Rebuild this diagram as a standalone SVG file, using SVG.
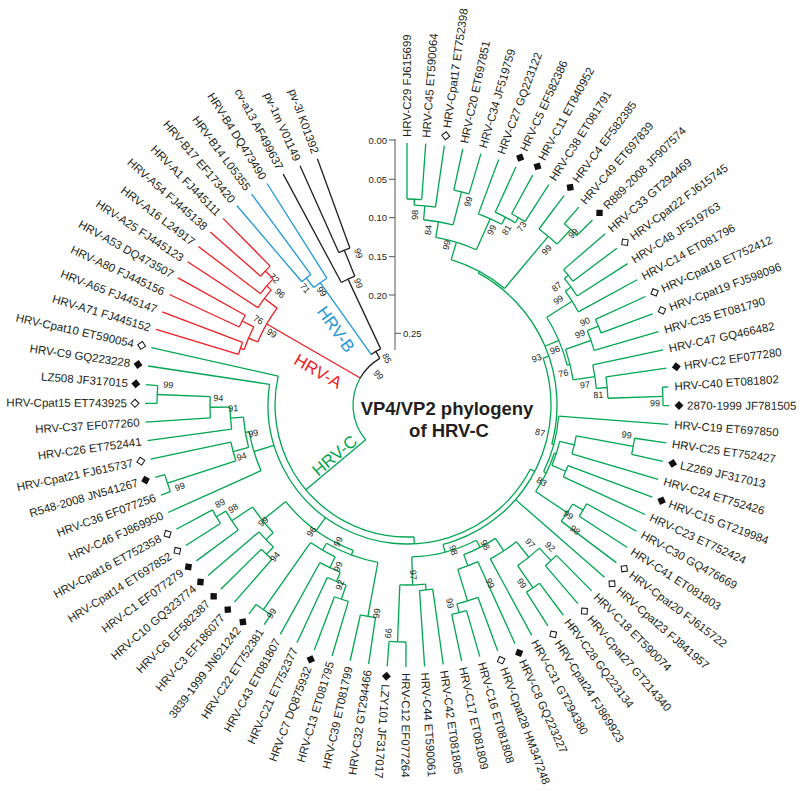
<svg xmlns="http://www.w3.org/2000/svg" xmlns:xlink="http://www.w3.org/1999/xlink" width="800" height="791" viewBox="0 0 800 791">
<style>
.e path,.e circle{fill:none;stroke-width:1.3;stroke-linecap:butt}
.g path,.g circle{stroke:#00a651}
.r path,.r circle{stroke:#ed1c24}
.bl path,.bl circle{stroke:#1e98d7}
.k path,.k circle{stroke:#231f20}
.l{font-family:"Liberation Sans",Arial,sans-serif;font-size:11.5px;fill:#231f20;dominant-baseline:central}
.f{text-anchor:end}
.b{font-family:"Liberation Sans",Arial,sans-serif;font-size:9px;fill:#231f20;text-anchor:middle;dominant-baseline:central}
.s{font-family:"Liberation Sans",Arial,sans-serif;font-size:9.5px;fill:#231f20;dominant-baseline:central}
.cl{font-family:"Liberation Sans",Arial,sans-serif;font-size:17px;text-anchor:middle}
.ti{font-family:"Liberation Sans",Arial,sans-serif;font-size:18.5px;font-weight:bold;fill:#231f20;text-anchor:middle}
</style>
<defs>
<path id="df" d="M-4.5 0L0-4.5L4.5 0L0 4.5Z" fill="#111"/>
<path id="do" d="M-4 0L0-4L4 0L0 4Z" fill="#fff" stroke="#111" stroke-width="1"/>
</defs>
<rect width="800" height="791" fill="#fff"/>
<g id="connectors" class="e" transform="translate(407,405)">
<g class="g">
<path d="M206 0H262" transform="rotate(270)"/>
<path d="M206 0H262" transform="rotate(274.1)"/>
<path d="M200 0H262" transform="rotate(278.19)"/>
<path d="M220 0H262" transform="rotate(282.29)"/>
<path d="M220 0H262" transform="rotate(286.39)"/>
<path d="M204 0H262" transform="rotate(290.48)"/>
<path d="M212 0H262" transform="rotate(294.58)"/>
<path d="M218 0H262" transform="rotate(298.67)"/>
<path d="M218 0H262" transform="rotate(302.77)"/>
<path d="M220 0H262" transform="rotate(306.87)"/>
<path d="M240 0H262" transform="rotate(310.96)"/>
<path d="M240 0H262" transform="rotate(315.06)"/>
<path d="M207 0H262" transform="rotate(319.16)"/>
<path d="M207 0H262" transform="rotate(323.25)"/>
<path d="M202 0H262" transform="rotate(327.35)"/>
<path d="M195 0H262" transform="rotate(331.45)"/>
<path d="M207 0H262" transform="rotate(335.54)"/>
<path d="M207 0H262" transform="rotate(339.64)"/>
<path d="M195 0H262" transform="rotate(343.74)"/>
<path d="M190 0H262" transform="rotate(347.83)"/>
<path d="M201 0H262" transform="rotate(351.93)"/>
<path d="M256 0H262" transform="rotate(356.02)"/>
<path d="M256 0H262" transform="rotate(360.12)"/>
<path d="M152 0H262" transform="rotate(364.22)"/>
<path d="M230 0H262" transform="rotate(368.31)"/>
<path d="M230 0H262" transform="rotate(372.41)"/>
<path d="M172 0H262" transform="rotate(376.51)"/>
<path d="M172 0H262" transform="rotate(380.6)"/>
<path d="M172 0H262" transform="rotate(384.7)"/>
<path d="M205 0H262" transform="rotate(388.8)"/>
<path d="M205 0H262" transform="rotate(392.89)"/>
<path d="M193 0H262" transform="rotate(396.99)"/>
<path d="M144 0H262" transform="rotate(401.08)"/>
<path d="M212 0H262" transform="rotate(405.18)"/>
<path d="M212 0H262" transform="rotate(409.28)"/>
<path d="M222 0H262" transform="rotate(413.37)"/>
<path d="M222 0H262" transform="rotate(417.47)"/>
<path d="M175 0H262" transform="rotate(421.57)"/>
<path d="M172 0H262" transform="rotate(425.66)"/>
<path d="M205 0H262" transform="rotate(429.76)"/>
<path d="M214 0H262" transform="rotate(433.86)"/>
<path d="M214 0H262" transform="rotate(437.95)"/>
<path d="M186 0H262" transform="rotate(442.05)"/>
<path d="M186 0H262" transform="rotate(446.15)"/>
<path d="M237 0H262" transform="rotate(450.24)"/>
<path d="M237 0H262" transform="rotate(454.34)"/>
<path d="M215 0H262" transform="rotate(458.43)"/>
<path d="M215 0H262" transform="rotate(462.53)"/>
<path d="M205 0H262" transform="rotate(466.63)"/>
<path d="M205 0H262" transform="rotate(470.72)"/>
<path d="M190 0H262" transform="rotate(474.82)"/>
<path d="M180 0H262" transform="rotate(478.92)"/>
<path d="M250 0H262" transform="rotate(483.01)"/>
<path d="M250 0H262" transform="rotate(487.11)"/>
<path d="M205 0H262" transform="rotate(491.21)"/>
<path d="M205 0H262" transform="rotate(495.3)"/>
<path d="M195 0H262" transform="rotate(499.4)"/>
<path d="M210 0H262" transform="rotate(503.49)"/>
<path d="M221 0H262" transform="rotate(507.59)"/>
<path d="M221 0H262" transform="rotate(511.69)"/>
<path d="M160 0H262" transform="rotate(515.78)"/>
<path d="M252 0H262" transform="rotate(519.88)"/>
<path d="M252 0H262" transform="rotate(523.98)"/>
<path d="M180 0H262" transform="rotate(528.07)"/>
<path d="M177 0H262" transform="rotate(532.17)"/>
<path d="M197 0H262" transform="rotate(536.27)"/>
<path d="M250 0H262" transform="rotate(540.36)"/>
<path d="M250 0H262" transform="rotate(544.46)"/>
<path d="M139 0H262" transform="rotate(548.56)"/>
<path d="M132 0H262" transform="rotate(552.65)"/>
<path d="M200 0H206" transform="rotate(272.05)"/><circle r="206" pathLength="360" stroke-dasharray="4.1 999" transform="rotate(270)"/>
<path d="M186 0H200" transform="rotate(275.12)"/><circle r="200" pathLength="360" stroke-dasharray="6.14 999" transform="rotate(272.05)"/>
<path d="M186 0H220" transform="rotate(284.34)"/><circle r="220" pathLength="360" stroke-dasharray="4.1 999" transform="rotate(282.29)"/>
<path d="M170 0H186" transform="rotate(279.73)"/><circle r="186" pathLength="360" stroke-dasharray="9.22 999" transform="rotate(275.12)"/>
<path d="M212 0H218" transform="rotate(300.72)"/><circle r="218" pathLength="360" stroke-dasharray="4.1 999" transform="rotate(298.67)"/>
<path d="M204 0H212" transform="rotate(297.65)"/><circle r="212" pathLength="360" stroke-dasharray="6.14 999" transform="rotate(294.58)"/>
<path d="M170 0H204" transform="rotate(294.07)"/><circle r="204" pathLength="360" stroke-dasharray="7.17 999" transform="rotate(290.48)"/>
<path d="M152 0H170" transform="rotate(286.9)"/><circle r="170" pathLength="360" stroke-dasharray="14.34 999" transform="rotate(279.73)"/>
<path d="M220 0H240" transform="rotate(313.01)"/><circle r="240" pathLength="360" stroke-dasharray="4.1 999" transform="rotate(310.96)"/>
<path d="M152 0H220" transform="rotate(309.94)"/><circle r="220" pathLength="360" stroke-dasharray="6.14 999" transform="rotate(306.87)"/>
<path d="M150 0H152" transform="rotate(298.42)"/><circle r="152" pathLength="360" stroke-dasharray="23.04 999" transform="rotate(286.9)"/>
<path d="M202 0H207" transform="rotate(321.2)"/><circle r="207" pathLength="360" stroke-dasharray="4.09 999" transform="rotate(319.16)"/>
<path d="M195 0H202" transform="rotate(324.28)"/><circle r="202" pathLength="360" stroke-dasharray="6.15 999" transform="rotate(321.2)"/>
<path d="M165 0H195" transform="rotate(327.86)"/><circle r="195" pathLength="360" stroke-dasharray="7.17 999" transform="rotate(324.28)"/>
<path d="M195 0H207" transform="rotate(337.59)"/><circle r="207" pathLength="360" stroke-dasharray="4.1 999" transform="rotate(335.54)"/>
<path d="M168 0H195" transform="rotate(340.66)"/><circle r="195" pathLength="360" stroke-dasharray="6.15 999" transform="rotate(337.59)"/>
<path d="M201 0H256" transform="rotate(358.07)"/><circle r="256" pathLength="360" stroke-dasharray="4.1 999" transform="rotate(356.02)"/>
<path d="M190 0H201" transform="rotate(355)"/><circle r="201" pathLength="360" stroke-dasharray="6.14 999" transform="rotate(351.93)"/>
<path d="M168 0H190" transform="rotate(351.42)"/><circle r="190" pathLength="360" stroke-dasharray="7.17 999" transform="rotate(347.83)"/>
<path d="M165 0H168" transform="rotate(346.04)"/><circle r="168" pathLength="360" stroke-dasharray="10.76 999" transform="rotate(340.66)"/>
<path d="M150 0H165" transform="rotate(336.95)"/><circle r="165" pathLength="360" stroke-dasharray="18.18 999" transform="rotate(327.86)"/>
<path d="M172 0H230" transform="rotate(370.36)"/><circle r="230" pathLength="360" stroke-dasharray="4.1 999" transform="rotate(368.31)"/>
<path d="M157 0H172" transform="rotate(373.43)"/><circle r="172" pathLength="360" stroke-dasharray="6.15 999" transform="rotate(370.36)"/>
<path d="M157 0H172" transform="rotate(382.65)"/><circle r="172" pathLength="360" stroke-dasharray="4.1 999" transform="rotate(380.6)"/>
<path d="M155 0H157" transform="rotate(378.04)"/><circle r="157" pathLength="360" stroke-dasharray="9.22 999" transform="rotate(373.43)"/>
<path d="M193 0H205" transform="rotate(390.85)"/><circle r="205" pathLength="360" stroke-dasharray="4.09 999" transform="rotate(388.8)"/>
<path d="M155 0H193" transform="rotate(393.92)"/><circle r="193" pathLength="360" stroke-dasharray="6.14 999" transform="rotate(390.85)"/>
<path d="M152 0H155" transform="rotate(385.98)"/><circle r="155" pathLength="360" stroke-dasharray="15.88 999" transform="rotate(378.04)"/>
<path d="M150 0H152" transform="rotate(375.1)"/><circle r="152" pathLength="360" stroke-dasharray="21.76 999" transform="rotate(364.22)"/>
<path d="M144 0H150" transform="rotate(341)"/><circle r="150" pathLength="360" stroke-dasharray="76.68 999" transform="rotate(298.42)"/>
<path d="M195 0H212" transform="rotate(407.23)"/><circle r="212" pathLength="360" stroke-dasharray="4.1 999" transform="rotate(405.18)"/>
<path d="M195 0H222" transform="rotate(415.42)"/><circle r="222" pathLength="360" stroke-dasharray="4.1 999" transform="rotate(413.37)"/>
<path d="M175 0H195" transform="rotate(411.33)"/><circle r="195" pathLength="360" stroke-dasharray="8.19 999" transform="rotate(407.23)"/>
<path d="M160 0H175" transform="rotate(416.45)"/><circle r="175" pathLength="360" stroke-dasharray="10.24 999" transform="rotate(411.33)"/>
<path d="M205 0H214" transform="rotate(435.9)"/><circle r="214" pathLength="360" stroke-dasharray="4.09 999" transform="rotate(433.86)"/>
<path d="M172 0H205" transform="rotate(432.83)"/><circle r="205" pathLength="360" stroke-dasharray="6.14 999" transform="rotate(429.76)"/>
<path d="M160 0H172" transform="rotate(429.25)"/><circle r="172" pathLength="360" stroke-dasharray="7.17 999" transform="rotate(425.66)"/>
<path d="M152 0H160" transform="rotate(422.85)"/><circle r="160" pathLength="360" stroke-dasharray="12.8 999" transform="rotate(416.45)"/>
<path d="M180 0H186" transform="rotate(444.1)"/><circle r="186" pathLength="360" stroke-dasharray="4.1 999" transform="rotate(442.05)"/>
<path d="M180 0H237" transform="rotate(452.29)"/><circle r="237" pathLength="360" stroke-dasharray="4.1 999" transform="rotate(450.24)"/>
<path d="M152 0H180" transform="rotate(448.2)"/><circle r="180" pathLength="360" stroke-dasharray="8.19 999" transform="rotate(444.1)"/>
<path d="M144 0H152" transform="rotate(435.5)"/><circle r="152" pathLength="360" stroke-dasharray="25.35 999" transform="rotate(422.85)"/>
<path d="M139 0H144" transform="rotate(387.5)"/><circle r="144" pathLength="360" stroke-dasharray="94.5 999" transform="rotate(341)"/>
<path d="M160 0H215" transform="rotate(460.48)"/><circle r="215" pathLength="360" stroke-dasharray="4.1 999" transform="rotate(458.43)"/>
<path d="M190 0H205" transform="rotate(468.68)"/><circle r="205" pathLength="360" stroke-dasharray="4.09 999" transform="rotate(466.63)"/>
<path d="M180 0H190" transform="rotate(471.75)"/><circle r="190" pathLength="360" stroke-dasharray="6.14 999" transform="rotate(468.68)"/>
<path d="M168 0H180" transform="rotate(475.34)"/><circle r="180" pathLength="360" stroke-dasharray="7.17 999" transform="rotate(471.75)"/>
<path d="M168 0H250" transform="rotate(485.06)"/><circle r="250" pathLength="360" stroke-dasharray="4.1 999" transform="rotate(483.01)"/>
<path d="M160 0H168" transform="rotate(480.2)"/><circle r="168" pathLength="360" stroke-dasharray="9.72 999" transform="rotate(475.34)"/>
<path d="M155 0H160" transform="rotate(470.34)"/><circle r="160" pathLength="360" stroke-dasharray="19.72 999" transform="rotate(460.48)"/>
<path d="M195 0H205" transform="rotate(493.26)"/><circle r="205" pathLength="360" stroke-dasharray="4.09 999" transform="rotate(491.21)"/>
<path d="M185 0H195" transform="rotate(496.33)"/><circle r="195" pathLength="360" stroke-dasharray="6.14 999" transform="rotate(493.26)"/>
<path d="M210 0H221" transform="rotate(509.64)"/><circle r="221" pathLength="360" stroke-dasharray="4.1 999" transform="rotate(507.59)"/>
<path d="M185 0H210" transform="rotate(506.57)"/><circle r="210" pathLength="360" stroke-dasharray="6.15 999" transform="rotate(503.49)"/>
<path d="M155 0H185" transform="rotate(501.45)"/><circle r="185" pathLength="360" stroke-dasharray="10.24 999" transform="rotate(496.33)"/>
<path d="M139 0H155" transform="rotate(485.9)"/><circle r="155" pathLength="360" stroke-dasharray="31.11 999" transform="rotate(470.34)"/>
<path d="M180 0H252" transform="rotate(521.93)"/><circle r="252" pathLength="360" stroke-dasharray="4.1 999" transform="rotate(519.88)"/>
<path d="M164 0H180" transform="rotate(525)"/><circle r="180" pathLength="360" stroke-dasharray="6.14 999" transform="rotate(521.93)"/>
<path d="M197 0H250" transform="rotate(542.41)"/><circle r="250" pathLength="360" stroke-dasharray="4.1 999" transform="rotate(540.36)"/>
<path d="M177 0H197" transform="rotate(539.34)"/><circle r="197" pathLength="360" stroke-dasharray="6.14 999" transform="rotate(536.27)"/>
<path d="M164 0H177" transform="rotate(535.76)"/><circle r="177" pathLength="360" stroke-dasharray="7.17 999" transform="rotate(532.17)"/>
<path d="M160 0H164" transform="rotate(530.38)"/><circle r="164" pathLength="360" stroke-dasharray="10.76 999" transform="rotate(525)"/>
<path d="M139 0H160" transform="rotate(523.08)"/><circle r="160" pathLength="360" stroke-dasharray="14.6 999" transform="rotate(515.78)"/>
<path d="M132 0H139" transform="rotate(447)"/><circle r="139" pathLength="360" stroke-dasharray="161.06 999" transform="rotate(387.5)"/>
<path d="M54 0H132" transform="rotate(500)"/><circle r="132" pathLength="360" stroke-dasharray="105.65 999" transform="rotate(447)"/>
<circle r="54" pathLength="360" stroke-dasharray="70 999" transform="rotate(500)"/>
</g>
<g class="r">
<path d="M176 0H262" transform="rotate(556.75)"/>
<path d="M176 0H262" transform="rotate(560.84)"/>
<path d="M185 0H262" transform="rotate(564.94)"/>
<path d="M185 0H262" transform="rotate(569.04)"/>
<path d="M178 0H262" transform="rotate(573.13)"/>
<path d="M184 0H262" transform="rotate(577.23)"/>
<path d="M195 0H262" transform="rotate(581.33)"/>
<path d="M195 0H262" transform="rotate(585.42)"/>
<path d="M172 0H176" transform="rotate(558.8)"/><circle r="176" pathLength="360" stroke-dasharray="4.09 999" transform="rotate(556.75)"/>
<path d="M172 0H185" transform="rotate(566.99)"/><circle r="185" pathLength="360" stroke-dasharray="4.1 999" transform="rotate(564.94)"/>
<path d="M162 0H172" transform="rotate(562.9)"/><circle r="172" pathLength="360" stroke-dasharray="8.19 999" transform="rotate(558.8)"/>
<path d="M184 0H195" transform="rotate(583.38)"/><circle r="195" pathLength="360" stroke-dasharray="4.09 999" transform="rotate(581.33)"/>
<path d="M178 0H184" transform="rotate(580.3)"/><circle r="184" pathLength="360" stroke-dasharray="6.15 999" transform="rotate(577.23)"/>
<path d="M162 0H178" transform="rotate(576.72)"/><circle r="178" pathLength="360" stroke-dasharray="7.17 999" transform="rotate(573.13)"/>
<path d="M54 0H162" transform="rotate(570)"/><circle r="162" pathLength="360" stroke-dasharray="13.82 999" transform="rotate(562.9)"/>
</g>
<g class="bl">
<path d="M162 0H262" transform="rotate(589.52)"/>
<path d="M162 0H262" transform="rotate(593.62)"/>
<path d="M150 0H262" transform="rotate(597.71)"/>
<path d="M150 0H162" transform="rotate(591.57)"/><circle r="162" pathLength="360" stroke-dasharray="4.1 999" transform="rotate(589.52)"/>
<path d="M62 0H150" transform="rotate(594.64)"/><circle r="150" pathLength="360" stroke-dasharray="6.14 999" transform="rotate(591.57)"/>
</g>
<g class="k">
<path d="M139 0H262" transform="rotate(601.81)"/>
<path d="M167 0H262" transform="rotate(605.9)"/>
<path d="M167 0H262" transform="rotate(610)"/>
<path d="M139 0H167" transform="rotate(607.95)"/><circle r="167" pathLength="360" stroke-dasharray="4.1 999" transform="rotate(605.9)"/>
<path d="M62 0H139" transform="rotate(604.88)"/><circle r="139" pathLength="360" stroke-dasharray="6.14 999" transform="rotate(601.81)"/>
<path d="M54 0H62" transform="rotate(599.76)"/><circle r="62" pathLength="360" stroke-dasharray="10.24 999" transform="rotate(594.64)"/>
<circle r="54" pathLength="360" stroke-dasharray="29.76 999" transform="rotate(570)"/>
</g>
</g>
<g id="tips" class="l">
<g id="t0" transform="translate(407,405) rotate(270)"><text x="268">HRV-C29 FJ615699</text></g>
<g id="t1" transform="translate(407,405) rotate(274.1)"><text x="268">HRV-C45 ET590064</text></g>
<g id="t2" transform="translate(407,405) rotate(278.19)"><use href="#do" x="272"/><text x="280">HRV-Cpat17 ET752398</text></g>
<g id="t3" transform="translate(407,405) rotate(282.29)"><text x="268">HRV-C20 ET697851</text></g>
<g id="t4" transform="translate(407,405) rotate(286.39)"><text x="268">HRV-C34 JF519759</text></g>
<g id="t5" transform="translate(407,405) rotate(290.48)"><text x="268">HRV-C27 GQ223122</text></g>
<g id="t6" transform="translate(407,405) rotate(294.58)"><use href="#df" x="272"/><text x="280">HRV-C5 EF582386</text></g>
<g id="t7" transform="translate(407,405) rotate(298.67)"><use href="#df" x="272"/><text x="280">HRV-C11 ET840952</text></g>
<g id="t8" transform="translate(407,405) rotate(302.77)"><text x="268">HRV-C38 ET081791</text></g>
<g id="t9" transform="translate(407,405) rotate(306.87)"><use href="#df" x="272"/><text x="280">HRV-C4 EF582385</text></g>
<g id="t10" transform="translate(407,405) rotate(310.96)"><text x="268">HRV-C49 ET697839</text></g>
<g id="t11" transform="translate(407,405) rotate(315.06)"><use href="#df" x="272"/><text x="280">R889-2008 JF907574</text></g>
<g id="t12" transform="translate(407,405) rotate(319.16)"><text x="268">HRV-C33 GT294469</text></g>
<g id="t13" transform="translate(407,405) rotate(323.25)"><use href="#do" x="272"/><text x="280">HRV-Cpat22 FJ615745</text></g>
<g id="t14" transform="translate(407,405) rotate(327.35)"><text x="268">HRV-C48 JF519763</text></g>
<g id="t15" transform="translate(407,405) rotate(331.45)"><text x="268">HRV-C14 ET081796</text></g>
<g id="t16" transform="translate(407,405) rotate(335.54)"><use href="#do" x="272"/><text x="280">HRV-Cpat18 ET752412</text></g>
<g id="t17" transform="translate(407,405) rotate(339.64)"><use href="#do" x="272"/><text x="280">HRV-Cpat19 FJ598096</text></g>
<g id="t18" transform="translate(407,405) rotate(343.74)"><text x="268">HRV-C35 ET081790</text></g>
<g id="t19" transform="translate(407,405) rotate(347.83)"><text x="268">HRV-C47 GQ466482</text></g>
<g id="t20" transform="translate(407,405) rotate(351.93)"><use href="#df" x="272"/><text x="280">HRV-C2 EF077280</text></g>
<g id="t21" transform="translate(407,405) rotate(356.02)"><text x="268">HRV-C40 ET081802</text></g>
<g id="t22" transform="translate(407,405) rotate(360.12)"><use href="#df" x="272"/><text x="280">2870-1999 JF781505</text></g>
<g id="t23" transform="translate(407,405) rotate(364.22)"><text x="268">HRV-C19 ET697850</text></g>
<g id="t24" transform="translate(407,405) rotate(368.31)"><text x="268">HRV-C25 ET752427</text></g>
<g id="t25" transform="translate(407,405) rotate(372.41)"><use href="#df" x="272"/><text x="280">LZ269 JF317013</text></g>
<g id="t26" transform="translate(407,405) rotate(376.51)"><text x="268">HRV-C24 ET752426</text></g>
<g id="t27" transform="translate(407,405) rotate(380.6)"><use href="#df" x="272"/><text x="280">HRV-C15 GT219984</text></g>
<g id="t28" transform="translate(407,405) rotate(384.7)"><text x="268">HRV-C23 ET752424</text></g>
<g id="t29" transform="translate(407,405) rotate(388.8)"><text x="268">HRV-C30 GQ476669</text></g>
<g id="t30" transform="translate(407,405) rotate(392.89)"><text x="268">HRV-C41 ET081803</text></g>
<g id="t31" transform="translate(407,405) rotate(396.99)"><use href="#do" x="272"/><text x="280">HRV-Cpat20 FJ615722</text></g>
<g id="t32" transform="translate(407,405) rotate(401.08)"><use href="#do" x="272"/><text x="280">HRV-Cpat23 FJ841957</text></g>
<g id="t33" transform="translate(407,405) rotate(405.18)"><text x="268">HRV-C18 ET590074</text></g>
<g id="t34" transform="translate(407,405) rotate(409.28)"><use href="#do" x="272"/><text x="280">HRV-Cpat27 GT214340</text></g>
<g id="t35" transform="translate(407,405) rotate(413.37)"><text x="268">HRV-C28 GQ223134</text></g>
<g id="t36" transform="translate(407,405) rotate(417.47)"><use href="#do" x="272"/><text x="280">HRV-Cpat24 FJ869923</text></g>
<g id="t37" transform="translate(407,405) rotate(421.57)"><text x="268">HRV-C31 GT294380</text></g>
<g id="t38" transform="translate(407,405) rotate(425.66)"><use href="#df" x="272"/><text x="280">HRV-C8 GQ223227</text></g>
<g id="t39" transform="translate(407,405) rotate(429.76)"><use href="#do" x="272"/><text x="280">HRV-Cpat28 HM347248</text></g>
<g id="t40" transform="translate(407,405) rotate(433.86)"><text x="268">HRV-C16 ET081808</text></g>
<g id="t41" transform="translate(407,405) rotate(437.95)"><text x="268">HRV-C17 ET081809</text></g>
<g id="t42" transform="translate(407,405) rotate(442.05)"><text x="268">HRV-C42 ET081805</text></g>
<g id="t43" transform="translate(407,405) rotate(446.15)"><text x="268">HRV-C44 ET590061</text></g>
<g id="t44" transform="translate(407,405) rotate(450.24)"><text x="268">HRV-C12 EF077264</text></g>
<g id="t45" transform="translate(407,405) rotate(454.34)"><use href="#df" x="272"/><text x="280">LZY101 JF317017</text></g>
<g id="t46" transform="translate(407,405) rotate(278.43)"><text class="f" x="-268">HRV-C32 GT294466</text></g>
<g id="t47" transform="translate(407,405) rotate(282.53)"><text class="f" x="-268">HRV-C39 ET081799</text></g>
<g id="t48" transform="translate(407,405) rotate(286.63)"><text class="f" x="-268">HRV-C13 ET081795</text></g>
<g id="t49" transform="translate(407,405) rotate(290.72)"><use href="#df" x="-272"/><text class="f" x="-280">HRV-C7 DQ875932</text></g>
<g id="t50" transform="translate(407,405) rotate(294.82)"><text class="f" x="-268">HRV-C21 ET752377</text></g>
<g id="t51" transform="translate(407,405) rotate(298.92)"><text class="f" x="-268">HRV-C43 ET081807</text></g>
<g id="t52" transform="translate(407,405) rotate(303.01)"><text class="f" x="-268">HRV-C22 ET752381</text></g>
<g id="t53" transform="translate(407,405) rotate(307.11)"><use href="#df" x="-272"/><text class="f" x="-280">3839-1999 JN621242</text></g>
<g id="t54" transform="translate(407,405) rotate(311.21)"><use href="#df" x="-272"/><text class="f" x="-280">HRV-C3 EF186077</text></g>
<g id="t55" transform="translate(407,405) rotate(315.3)"><use href="#df" x="-272"/><text class="f" x="-280">HRV-C6 EF582387</text></g>
<g id="t56" transform="translate(407,405) rotate(319.4)"><use href="#df" x="-272"/><text class="f" x="-280">HRV-C10 GQ323774</text></g>
<g id="t57" transform="translate(407,405) rotate(323.49)"><use href="#df" x="-272"/><text class="f" x="-280">HRV-C1 EF077279</text></g>
<g id="t58" transform="translate(407,405) rotate(327.59)"><use href="#do" x="-272"/><text class="f" x="-280">HRV-Cpat14 ET697852</text></g>
<g id="t59" transform="translate(407,405) rotate(331.69)"><use href="#do" x="-272"/><text class="f" x="-280">HRV-Cpat16 ET752358</text></g>
<g id="t60" transform="translate(407,405) rotate(335.78)"><text class="f" x="-268">HRV-C46 FJ869950</text></g>
<g id="t61" transform="translate(407,405) rotate(339.88)"><text class="f" x="-268">HRV-C36 EF077256</text></g>
<g id="t62" transform="translate(407,405) rotate(343.98)"><use href="#df" x="-272"/><text class="f" x="-280">R548-2008 JN541267</text></g>
<g id="t63" transform="translate(407,405) rotate(348.07)"><use href="#do" x="-272"/><text class="f" x="-280">HRV-Cpat21 FJ615737</text></g>
<g id="t64" transform="translate(407,405) rotate(352.17)"><text class="f" x="-268">HRV-C26 ET752441</text></g>
<g id="t65" transform="translate(407,405) rotate(356.27)"><text class="f" x="-268">HRV-C37 EF077260</text></g>
<g id="t66" transform="translate(407,405) rotate(360.36)"><use href="#do" x="-272"/><text class="f" x="-280">HRV-Cpat15 ET743925</text></g>
<g id="t67" transform="translate(407,405) rotate(364.46)"><use href="#df" x="-272"/><text class="f" x="-280">LZ508 JF317015</text></g>
<g id="t68" transform="translate(407,405) rotate(368.56)"><use href="#df" x="-272"/><text class="f" x="-280">HRV-C9 GQ223228</text></g>
<g id="t69" transform="translate(407,405) rotate(372.65)"><use href="#do" x="-272"/><text class="f" x="-280">HRV-Cpat10 ET590054</text></g>
<g id="t70" transform="translate(407,405) rotate(376.75)"><text class="f" x="-268">HRV-A71 FJ445152</text></g>
<g id="t71" transform="translate(407,405) rotate(380.84)"><text class="f" x="-268">HRV-A65 FJ445147</text></g>
<g id="t72" transform="translate(407,405) rotate(384.94)"><text class="f" x="-268">HRV-A80 FJ445156</text></g>
<g id="t73" transform="translate(407,405) rotate(389.04)"><text class="f" x="-268">HRV-A53 DQ473507</text></g>
<g id="t74" transform="translate(407,405) rotate(393.13)"><text class="f" x="-268">HRV-A25 FJ445123</text></g>
<g id="t75" transform="translate(407,405) rotate(397.23)"><text class="f" x="-268">HRV-A16 L24917</text></g>
<g id="t76" transform="translate(407,405) rotate(401.33)"><text class="f" x="-268">HRV-A54 FJ445138</text></g>
<g id="t77" transform="translate(407,405) rotate(405.42)"><text class="f" x="-268">HRV-A1 FJ445111</text></g>
<g id="t78" transform="translate(407,405) rotate(409.52)"><text class="f" x="-268">HRV-B17 EF173420</text></g>
<g id="t79" transform="translate(407,405) rotate(413.62)"><text class="f" x="-268">HRV-B14 L05355</text></g>
<g id="t80" transform="translate(407,405) rotate(417.71)"><text class="f" x="-268">HRV-B4 DQ473490</text></g>
<g id="t81" transform="translate(407,405) rotate(421.81)"><text class="f" x="-268">cv-a13 AF499637</text></g>
<g id="t82" transform="translate(407,405) rotate(425.9)"><text class="f" x="-268">pv-1m V01149</text></g>
<g id="t83" transform="translate(407,405) rotate(430)"><text class="f" x="-268">pv-3l K01392</text></g>
</g>
<g id="support" class="b">
<text transform="translate(415,215) rotate(-87.6)">98</text>
<text transform="translate(428.3,230) rotate(-83.1)">84</text>
<text transform="translate(446.7,245) rotate(-76.1)">99</text>
<text transform="translate(468.3,201.7) rotate(-73.2)">99</text>
<text transform="translate(491.7,230) rotate(-64.2)">99</text>
<text transform="translate(506.7,230) rotate(-60.3)">81</text>
<text transform="translate(521.7,226.7) rotate(-57.2)">73</text>
<text transform="translate(546.7,250) rotate(-48)">99</text>
<text transform="translate(573.3,233.3) rotate(-45.9)">99</text>
<text transform="translate(556.7,286.7) rotate(-38.3)">87</text>
<text transform="translate(558.3,300) rotate(-34.8)">99</text>
<text transform="translate(585,321.7) rotate(-25.1)">90</text>
<text transform="translate(580,334) rotate(-22.3)">99</text>
<text transform="translate(555,350) rotate(-20.4)">96</text>
<text transform="translate(536.7,358.3) rotate(-19.8)">93</text>
<text transform="translate(563.3,373.3) rotate(-11.4)">76</text>
<text transform="translate(585,385) rotate(-6.4)">97</text>
<text transform="translate(598.3,395) rotate(-3)">81</text>
<text transform="translate(655,403.3) rotate(-0.4)">99</text>
<text transform="translate(540,432.7) rotate(11.8)">87</text>
<text transform="translate(626.7,435) rotate(7.8)">99</text>
<text transform="translate(541.7,481.7) rotate(29.7)">83</text>
<text transform="translate(568.3,515) rotate(34.3)">99</text>
<text transform="translate(575,530) rotate(36.7)">98</text>
<text transform="translate(550,546.7) rotate(44.7)">92</text>
<text transform="translate(530,543.3) rotate(48.4)">97</text>
<text transform="translate(521.7,583.3) rotate(57.3)">99</text>
<text transform="translate(485,545) rotate(60.9)">98</text>
<text transform="translate(490,583.3) rotate(65)">99</text>
<text transform="translate(453.3,550) rotate(72.3)">98</text>
<text transform="translate(450,603.3) rotate(77.8)">99</text>
<text transform="translate(413.3,575) rotate(87.9)">97</text>
<text transform="translate(388.3,633.3) rotate(94.7)">99</text>
<text transform="translate(376.7,613.3) rotate(-81.7)">99</text>
<text transform="translate(340,585) rotate(-69.6)">92</text>
<text transform="translate(338.3,566.7) rotate(-67)">99</text>
<text transform="translate(338.3,541.7) rotate(-63.3)">99</text>
<text transform="translate(311.7,531.7) rotate(-53.1)">96</text>
<text transform="translate(271.7,613.3) rotate(-57.1)">99</text>
<text transform="translate(275,556.7) rotate(-49)">94</text>
<text transform="translate(263.3,521.7) rotate(-39.1)">99</text>
<text transform="translate(233.3,508.3) rotate(-30.8)">98</text>
<text transform="translate(220,503.3) rotate(-27.7)">89</text>
<text transform="translate(180,486.7) rotate(-19.8)">99</text>
<text transform="translate(241.7,456.7) rotate(-17.4)">94</text>
<text transform="translate(253.3,433.3) rotate(-10.4)">99</text>
<text transform="translate(233.3,408.3) rotate(-1.1)">91</text>
<text transform="translate(218.3,398.3) rotate(2)">94</text>
<text transform="translate(168.3,385) rotate(4.8)">99</text>
<text transform="translate(274.3,278.3) rotate(43.7)">72</text>
<text transform="translate(280,293.3) rotate(41.3)">96</text>
<text transform="translate(258.3,320) rotate(29.8)">76</text>
<text transform="translate(271.7,333.3) rotate(27.9)">99</text>
<text transform="translate(305,288.3) rotate(48.8)">71</text>
<text transform="translate(321.7,291.7) rotate(53)">99</text>
<text transform="translate(358.3,253.3) rotate(72.2)">99</text>
<text transform="translate(358.3,283.3) rotate(68.2)">99</text>
<text transform="translate(386.7,358.3) rotate(66.5)">85</text>
<text transform="translate(378.3,375) rotate(46.3)">99</text>
</g>
<g id="scale" class="s">
<path d="M395 139V350M389 140H395M389 179.3H395M389 217.7H395M389 256.7H395M389 295H395M395 333.3H401" stroke="#555" stroke-width="1" fill="none"/>
<text x="387" y="140" text-anchor="end">0.00</text>
<text x="387" y="179.3" text-anchor="end">0.05</text>
<text x="387" y="217.7" text-anchor="end">0.10</text>
<text x="387" y="256.7" text-anchor="end">0.15</text>
<text x="387" y="295" text-anchor="end">0.20</text>
<text x="403" y="333.3">0.25</text>
</g>
<g id="clades" class="cl">
<text transform="translate(407,405) rotate(30)" x="-94" y="21" fill="#ed1c24">HRV-A</text>
<text transform="translate(407,405) rotate(54.64)" x="-103" y="20" fill="#1e98d7">HRV-B</text>
<text transform="translate(407,405) rotate(-40)" x="-88" y="-2" fill="#00a651">HRV-C</text>
</g>
<g id="title" class="ti">
<text x="447" y="415">VP4/VP2 phylogeny</text>
<text x="449" y="437">of HRV-C</text>
</g>
</svg>
